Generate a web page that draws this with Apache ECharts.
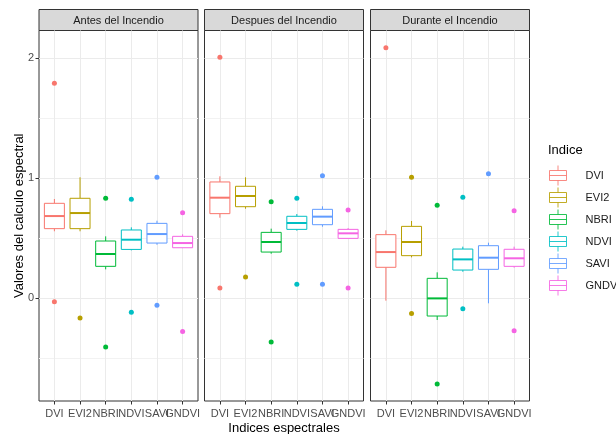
<!DOCTYPE html>
<html><head><meta charset="utf-8">
<script src="https://cdn.jsdelivr.net/npm/echarts@6/dist/echarts.min.js"></script>
<style>html,body{margin:0;padding:0;background:#fff}#c{width:616px;height:434px}</style>
</head><body><div id="c"></div>
<script>
const categories = ['DVI','EVI2','NBRI','NDVI','SAVI','GNDVI'];
const periods = ['Antes del Incendio','Despues del Incendio','Durante el Incendio'];
const colors = ['#F8766D','#B79F00','#00BA38','#00BFC4','#619CFF','#F564E3'];
// [lower whisker, Q1, median, Q3, upper whisker]
const antesBox = [
  [0.556,0.578,0.683,0.789,0.825],
  [0.556,0.578,0.708,0.831,1.006],
  [0.239,0.264,0.367,0.475,0.514],
  [0.397,0.405,0.486,0.567,0.589],
  [0.444,0.458,0.533,0.622,0.644],
  [0.419,0.419,0.458,0.514,0.531]
];
const antesOutliers = [[1.79,-0.031],[-0.167],[0.831,-0.408],[0.822,-0.119],[1.006,-0.061],[0.711,-0.278]];
const despuesBox = [
  [0.669,0.703,0.836,0.967,1.014],
  [0.744,0.761,0.85,0.931,1.006],
  [0.369,0.383,0.467,0.547,0.578],
  [0.561,0.572,0.625,0.681,0.7],
  [0.594,0.611,0.678,0.739,0.764],
  [0.497,0.497,0.539,0.572,0.583]
];
const despuesOutliers = [[2.006,0.083],[0.175],[0.803,-0.367],[0.831,0.114],[1.019,0.114],[0.733,0.083]];
const duranteBox = [
  [-0.022,0.256,0.383,0.528,0.564],
  [0.339,0.353,0.467,0.597,0.642],
  [-0.183,-0.15,-0.003,0.164,0.214],
  [0.219,0.233,0.322,0.408,0.428],
  [-0.044,0.239,0.336,0.436,0.461],
  [0.253,0.264,0.331,0.406,0.428]
];
const duranteOutliers = [[2.086],[1.006,-0.128],[0.772,-0.717],[0.839,-0.089],[1.036],[0.728,-0.272]];
const yMajorTicks = [0,1,2];
const yMinorTicks = [-0.5,0.5,1.5];
const xTickValues = [1,2,3,4,5,6];

const boxSets = [antesBox, despuesBox, duranteBox];
const outlierSets = [antesOutliers, despuesOutliers, duranteOutliers];

const FONT = '"Liberation Sans", Arial, sans-serif';
const Y_MIN = -0.858, Y_MAX = 2.229;
const X_MIN = 0.4, X_MAX = 6.6;
const BOX_W = 0.78;
const panelLeft = [39, 204.5, 370.5];
const panelWidth = 159;
const panelTop = 30.5;
const panelHeight = 370.5;

function renderBox(params, api) {
  const x = api.value(0);
  const pLo = api.coord([x, api.value(1)]);
  const pQ1 = api.coord([x, api.value(2)]);
  const pMd = api.coord([x, api.value(3)]);
  const pQ3 = api.coord([x, api.value(4)]);
  const pHi = api.coord([x, api.value(5)]);
  const half = api.size([BOX_W, 0])[0] / 2;
  const c = api.visual('color');
  return {
    type: 'group',
    children: [
      {type:'line', shape:{x1:pHi[0], y1:pHi[1], x2:pQ3[0], y2:pQ3[1]}, style:{stroke:c, lineWidth:1}},
      {type:'line', shape:{x1:pQ1[0], y1:pQ1[1], x2:pLo[0], y2:pLo[1]}, style:{stroke:c, lineWidth:1}},
      {type:'rect', shape:{x:pQ3[0]-half, y:pQ3[1], width:2*half, height:pQ1[1]-pQ3[1]}, style:{fill:'#fff', stroke:c, lineWidth:1}},
      {type:'line', shape:{x1:pMd[0]-half, y1:pMd[1], x2:pMd[0]+half, y2:pMd[1]}, style:{stroke:c, lineWidth:2}}
    ]
  };
}

const grids = [], xAxes = [], yAxes = [], series = [], graphics = [];
periods.forEach((p, i) => {
  grids.push({left:panelLeft[i], top:panelTop, width:panelWidth, height:panelHeight,
    show:true, backgroundColor:'#fff', borderColor:'#333', borderWidth:1,
    containLabel:false, outerBoundsMode:'none'});
  xAxes.push({
    gridIndex:i, type:'value', min:X_MIN, max:X_MAX, position:'bottom',
    axisLine:{show:false, onZero:false},
    axisTick:{show:true, customValues:xTickValues, length:3.5, lineStyle:{color:'#333', width:1}},
    // the extra end value carries an empty label so that no category label is treated as the axis' last label
    axisLabel:{customValues:xTickValues.concat([X_MAX]),
      formatter:v => (categories[Math.round(v)-1] && Math.abs(v - Math.round(v)) < 1e-6) ? categories[Math.round(v)-1] : '',
      color:'#4D4D4D', fontSize:11, fontFamily:FONT, margin:7, hideOverlap:false},
    splitLine:{show:true, lineStyle:{color:'#EBEBEB', width:1}},
    name: i === 1 ? 'Indices espectrales' : '', nameLocation:'middle', nameGap:20.5, nameMoveOverlap:false,
    nameTextStyle:{fontSize:13, color:'#000', fontFamily:FONT}
  });
  yAxes.push({
    gridIndex:i, type:'value', min:Y_MIN, max:Y_MAX,
    axisLine:{show:false, onZero:false},
    axisTick:{show:i === 0, customValues:yMajorTicks, length:3.5, lineStyle:{color:'#333', width:1}},
    axisLabel:{show:i === 0, customValues:yMajorTicks, color:'#4D4D4D', fontSize:11, fontFamily:FONT, margin:5},
    splitLine:{show:true, lineStyle:{color:'#EBEBEB', width:1}},
    name: i === 0 ? 'Valores del calculo espectral' : '', nameLocation:'middle', nameGap:13, nameRotate:90,
    nameMoveOverlap:false,
    nameTextStyle:{fontSize:13, color:'#000', fontFamily:FONT}
  });
  yAxes.push({
    gridIndex:i, type:'value', min:Y_MIN, max:Y_MAX,
    axisLine:{show:false, onZero:false},
    axisTick:{show:false, customValues:yMinorTicks},
    axisLabel:{show:false, customValues:yMinorTicks},
    splitLine:{show:true, lineStyle:{color:'#F2F2F2', width:1}}
  });
  categories.forEach((cat, j) => {
    const b = boxSets[i][j];
    series.push({
      type:'custom', name:cat, xAxisIndex:i, yAxisIndex:2*i,
      itemStyle:{color:colors[j]}, renderItem:renderBox, z:3,
      encode:{x:0, y:[1,2,3,4,5]},
      data:[[j+1, b[0], b[1], b[2], b[3], b[4]]]
    });
    series.push({
      type:'scatter', name:cat, xAxisIndex:i, yAxisIndex:2*i, symbolSize:5, z:4,
      itemStyle:{color:colors[j], opacity:1},
      data: outlierSets[i][j].map(v => [j+1, v])
    });
  });
  graphics.push({type:'rect', shape:{x:panelLeft[i], y:9.5, width:panelWidth, height:21},
    style:{fill:'#D9D9D9', stroke:'#333', lineWidth:1}});
  graphics.push({type:'text', x:panelLeft[i] + panelWidth/2, y:20.5,
    style:{text:p, align:'center', verticalAlign:'middle', fontSize:11, fontFamily:FONT, fill:'#1A1A1A'}});
});

const ICON = 'path://M8.5,0L8.5,5M0,5L17,5L17,15L0,15ZM0,10L17,10M8.5,15L8.5,20';

const chart = echarts.init(document.getElementById('c'));
chart.setOption({
  animation:false,
  backgroundColor:'#fff',
  textStyle:{fontFamily:FONT},
  title:{text:'Indice', left:548, top:144, padding:0,
    textStyle:{fontSize:13, fontWeight:'normal', color:'#000', fontFamily:FONT}},
  legend:{orient:'vertical', left:549, top:165, itemWidth:17, itemHeight:20, itemGap:1, padding:0,
    selectedMode:false,
    textStyle:{fontSize:11, color:'#1A1A1A', fontFamily:FONT, padding:[0,0,0,14]},
    data: categories.map((c, j) => ({name:c, icon:ICON,
      itemStyle:{color:'#fff', borderColor:colors[j], borderWidth:1, opacity:0.85}}))},
  grid:grids, xAxis:xAxes, yAxis:yAxes, series:series,
  graphic:graphics
});
</script></body></html>
